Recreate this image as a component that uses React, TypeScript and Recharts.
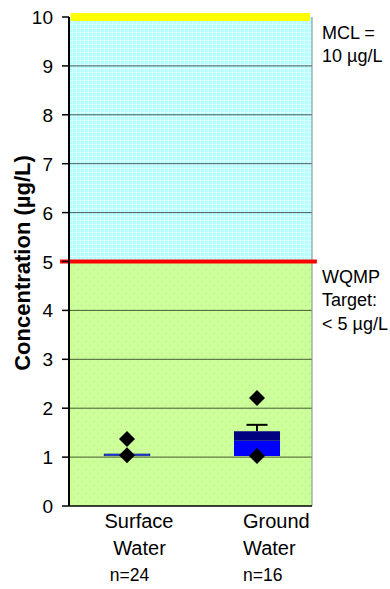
import React from 'react';
import {
  ComposedChart,
  Bar,
  Scatter,
  XAxis,
  YAxis,
  ReferenceArea,
  ReferenceLine,
  Cell,
} from 'recharts';

// ---- data ----
const labelLine1 = ['Surface', 'Ground'];
const labelLine2 = ['Water', 'Water'];
const sampleCounts = ['n=24', 'n=16'];
const categoryPositions = [0.2387, 0.7737];
const boxLow = [1.03, 1.02];
const boxMid = [1.065, 1.335];
const boxHigh = [1.065, 1.53];
const whiskerTop = [null, 1.66];
const outlierHigh = [1.37, 2.21];
const outlierLow = [1.04, 1.02];
const yTicks = [0, 1, 2, 3, 4, 5, 6, 7, 8, 9, 10];
const gridValues = [1, 2, 3, 4, 6, 7, 8, 9];
const MCL = 10;
const TARGET = 5;
const mclText = ['MCL =', '10 µg/L'];
const targetText = ['WQMP', 'Target:', '< 5 µg/L'];

const FONT = '"Liberation Sans", Arial, sans-serif';

const boxData = categoryPositions.map((x, i) => ({
  x,
  base: boxLow[i],
  lower: boxMid[i] - boxLow[i],
  upper: boxHigh[i] - boxMid[i],
}));

const pointData = categoryPositions.flatMap((x, i) => [
  { x, y: outlierHigh[i] },
  { x, y: outlierLow[i] },
]);

const whiskerData = categoryPositions.flatMap((x, i) =>
  whiskerTop[i] == null
    ? []
    : [
        { x, y: boxHigh[i], cap: false },
        { x, y: whiskerTop[i] as number, cap: true },
      ]
);

const Diamond = (p: any) => {
  const { cx, cy } = p;
  const r = 8;
  return (
    <polygon
      points={`${cx},${cy - r} ${cx + r},${cy} ${cx},${cy + r} ${cx - r},${cy}`}
      fill="#000"
    />
  );
};

const WhiskerCap = (p: any) => {
  const { cx, cy, payload } = p;
  if (!payload || !payload.cap) return <g />;
  return <line x1={cx - 10.5} x2={cx + 10.5} y1={cy} y2={cy} stroke="#000" strokeWidth={2} />;
};

const XTick = (props: any) => {
  const { x, y, index } = props;
  const layouts = [
    { anchor: 'middle', d1: 12, d2: 12.5, d3: 2.5 },
    { anchor: 'start', d1: -14, d2: -14, d3: -14 },
  ];
  const l = layouts[index] || layouts[0];
  return (
    <g fontFamily={FONT} fill="#000">
      <text x={x + l.d1} y={y + 22} textAnchor={l.anchor} fontSize={20}>
        {labelLine1[index]}
      </text>
      <text x={x + l.d2} y={y + 49} textAnchor={l.anchor} fontSize={20}>
        {labelLine2[index]}
      </text>
      <text x={x + l.d3} y={y + 75} textAnchor={l.anchor} fontSize={17.5}>
        {sampleCounts[index]}
      </text>
    </g>
  );
};

const YTick = (props: any) => {
  const { x, y, payload } = props;
  return (
    <text x={x} y={y} dy={7} textAnchor="end" fontSize={19} fontFamily={FONT} fill="#000">
      {payload.value}
    </text>
  );
};

const MclLabel = (props: any) => {
  const vb = props.viewBox || {};
  const x = 322;
  const y = vb.y ?? 17;
  return (
    <g fontFamily={FONT} fontSize={18} fill="#000">
      <text x={x} y={y + 22}>{mclText[0]}</text>
      <text x={x} y={y + 45}>{mclText[1]}</text>
    </g>
  );
};

const TargetLabel = (props: any) => {
  const vb = props.viewBox || {};
  const x = 322;
  const y = vb.y ?? 262;
  return (
    <g fontFamily={FONT} fontSize={18} fill="#000">
      <text x={x} y={y + 21}>{targetText[0]}</text>
      <text x={x} y={y + 44}>{targetText[1]}</text>
      <text x={x} y={y + 68}>{targetText[2]}</text>
    </g>
  );
};

const YLabel = () => (
  <text
    x={22}
    y={263}
    transform="rotate(-90, 22, 263)"
    textAnchor="middle"
    dominantBaseline="central"
    fontFamily={FONT}
    fontSize={22}
    fontWeight="bold"
    fill="#000"
  >
    Concentration (µg/L)
  </text>
);

export default function App() {
  return (
    <div>
      <style>{'body{margin:0}'}</style>
      <ComposedChart
        width={390}
        height={589}
        data={boxData}
        margin={{ top: 17, right: 78, bottom: 0, left: 0 }}
      >
        <defs>
          <pattern id="cyanPat" width="4" height="4" patternUnits="userSpaceOnUse">
            <rect width="4" height="4" fill="#B4FFFF" />
            <rect width="4" height="1" fill="#FFFFFF" fillOpacity={0.5} />
            <rect y="1" width="1" height="3" fill="#FFFFFF" fillOpacity={0.5} />
          </pattern>
          <pattern id="greenPat" width="8" height="8" patternUnits="userSpaceOnUse">
            <rect width="8" height="8" fill="#CCFF99" />
            <rect x="1" y="1" width="1" height="1" fill="#B2EC8C" />
            <rect x="5" y="5" width="1" height="1" fill="#B2EC8C" />
          </pattern>
        </defs>
        <ReferenceArea y1={0} y2={TARGET} fill="url(#greenPat)" fillOpacity={1} stroke="none" ifOverflow="visible" />
        <ReferenceArea y1={TARGET} y2={MCL} fill="url(#cyanPat)" fillOpacity={1} stroke="none" ifOverflow="visible" />
        {gridValues.map((v) => (
          <ReferenceLine key={v} y={v} stroke="#000" strokeOpacity={0.65} strokeWidth={1} />
        ))}
        <XAxis
          type="number"
          dataKey="x"
          domain={[0, 1]}
          ticks={categoryPositions}
          interval={0}
          tickLine={false}
          tickSize={0}
          tickMargin={0}
          height={83}
          axisLine={{ stroke: '#000', strokeWidth: 1.5 }}
          tick={(p: any) => <XTick {...p} />}
        />
        <YAxis
          type="number"
          domain={[0, 10]}
          ticks={yTicks}
          interval={0}
          width={69}
          tickSize={7}
          tickMargin={9}
          axisLine={{ stroke: '#000', strokeWidth: 2 }}
          tickLine={{ stroke: '#000', strokeWidth: 1.5 }}
          tick={(p: any) => <YTick {...p} />}
          label={<YLabel />}
        />
        <ReferenceLine x={1} stroke="#7f8f8f" strokeWidth={1} />
        <Bar dataKey="base" stackId="box" fill="transparent" barSize={46} isAnimationActive={false} />
        <Bar dataKey="lower" stackId="box" barSize={46} isAnimationActive={false}>
          {boxData.map((d, i) => (
            <Cell
              key={i}
              fill={i === 0 ? '#2244DD' : '#0000FF'}
              stroke={i === 0 ? '#000080' : 'none'}
              strokeWidth={i === 0 ? 0.5 : 0}
            />
          ))}
        </Bar>
        <Bar dataKey="upper" stackId="box" fill="#000080" barSize={46} isAnimationActive={false} />
        <Scatter
          data={whiskerData}
          dataKey="y"
          line={{ stroke: '#000', strokeWidth: 2 }}
          shape={WhiskerCap}
          isAnimationActive={false}
        />
        <Scatter data={pointData} dataKey="y" shape={Diamond} isAnimationActive={false} />
        <ReferenceLine
          segment={[{ x: 0.007, y: MCL }, { x: 0.992, y: MCL }]}
          stroke="#FFFF00"
          strokeWidth={8}
          ifOverflow="visible"
          label={<MclLabel />}
        />
        <ReferenceLine
          segment={[{ x: -0.037, y: TARGET }, { x: 1.02, y: TARGET }]}
          stroke="#FF0000"
          strokeWidth={4}
          ifOverflow="visible"
          label={<TargetLabel />}
        />
      </ComposedChart>
    </div>
  );
}
